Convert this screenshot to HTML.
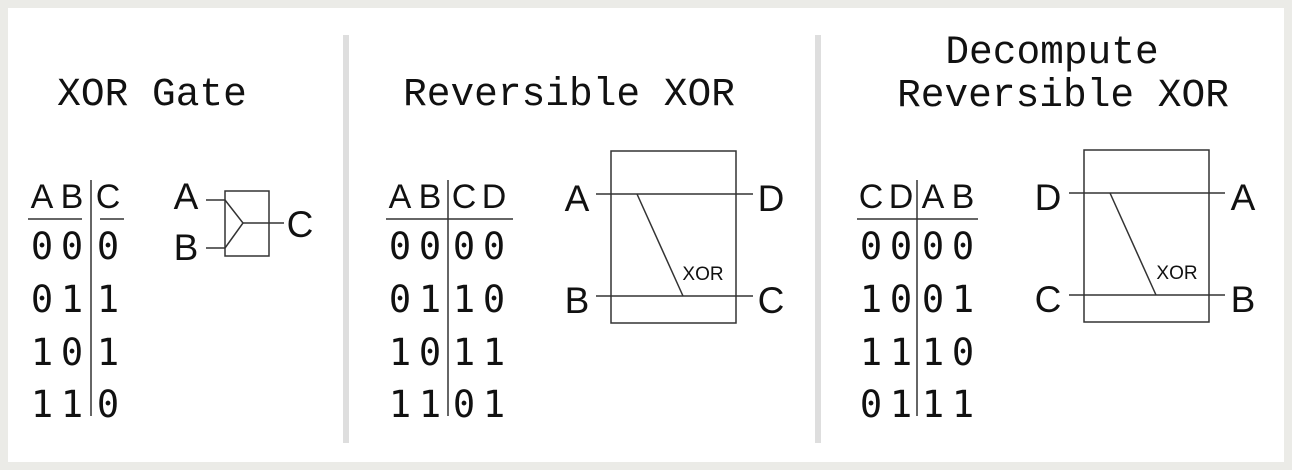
<!DOCTYPE html>
<html><head><style>
html,body{margin:0;padding:0;background:#ebebe7;}
svg{display:block}
.t{font-family:"Liberation Mono",monospace;font-size:39.5px;fill:#111}
.d{font-family:"DejaVu Sans Mono","Liberation Mono",monospace;font-size:37px;fill:#111}
.l{font-family:"Liberation Sans",sans-serif;font-size:37px;fill:#111}
.h{font-family:"Liberation Sans",sans-serif;font-size:34px;fill:#111}
.x{font-family:"Liberation Sans",sans-serif;font-size:19px;fill:#111}
</style></head><body>
<svg width="1292" height="470" viewBox="0 0 1292 470">
<rect x="8" y="8" width="1276" height="454" fill="#fff"/>
<rect x="343" y="35" width="6" height="408" fill="#dedede"/>
<rect x="815" y="35" width="6" height="408" fill="#dedede"/>
<g class="t" text-anchor="middle">
<text x="152" y="105">XOR Gate</text>
<text x="569" y="105">Reversible XOR</text>
<text x="1052" y="63">Decompute</text>
<text x="1063" y="106">Reversible XOR</text>
</g>
<g stroke="#333" stroke-width="1.5" fill="none">
<line x1="28" y1="219" x2="82" y2="219"/><line x1="100" y1="219" x2="124" y2="219"/>
<line x1="91" y1="180" x2="91" y2="416"/>
<line x1="386" y1="219" x2="513" y2="219"/><line x1="448" y1="180" x2="448" y2="416"/>
<line x1="857" y1="219" x2="978" y2="219"/><line x1="917" y1="180" x2="917" y2="416"/>
<rect x="225" y="191" width="44" height="65"/>
<line x1="206" y1="200" x2="225" y2="200"/><line x1="206" y1="248" x2="225" y2="248"/>
<polyline points="225,200 243,223 225,248"/>
<line x1="243" y1="223" x2="284" y2="223"/>
<rect x="611" y="151" width="125" height="172"/>
<line x1="596" y1="194" x2="753" y2="194"/><line x1="596" y1="296" x2="753" y2="296"/>
<line x1="637" y1="194" x2="683" y2="296"/>
<rect x="1084" y="150" width="125" height="172"/>
<line x1="1069" y1="193" x2="1225" y2="193"/><line x1="1069" y1="295" x2="1225" y2="295"/>
<line x1="1110" y1="193" x2="1156" y2="295"/>
</g>
<g class="h" text-anchor="middle">
<text x="42" y="208">A</text><text x="72" y="208">B</text><text x="108" y="208">C</text>
<text x="400" y="208">A</text><text x="430" y="208">B</text><text x="464" y="208">C</text><text x="494" y="208">D</text>
<text x="871" y="208">C</text><text x="901" y="208">D</text><text x="933" y="208">A</text><text x="963" y="208">B</text>
</g>
<g class="l" text-anchor="middle">
<text x="186" y="209">A</text><text x="186" y="260">B</text><text x="300" y="237">C</text>
<text x="577" y="211">A</text><text x="771" y="211">D</text><text x="577" y="313">B</text><text x="771" y="313">C</text>
<text x="1048" y="210">D</text><text x="1243" y="210">A</text><text x="1048" y="312">C</text><text x="1243" y="312">B</text>
</g>
<g class="x" text-anchor="middle"><text x="703" y="280">XOR</text><text x="1177" y="279">XOR</text></g>
<g class="d" text-anchor="middle">
<text x="42" y="259">0</text><text x="72" y="259">0</text><text x="108" y="259">0</text>
<text x="42" y="312">0</text><text x="72" y="312">1</text><text x="108" y="312">1</text>
<text x="42" y="365">1</text><text x="72" y="365">0</text><text x="108" y="365">1</text>
<text x="42" y="417">1</text><text x="72" y="417">1</text><text x="108" y="417">0</text>

<text x="400" y="259">0</text><text x="430" y="259">0</text><text x="464" y="259">0</text><text x="494" y="259">0</text>
<text x="400" y="312">0</text><text x="430" y="312">1</text><text x="464" y="312">1</text><text x="494" y="312">0</text>
<text x="400" y="365">1</text><text x="430" y="365">0</text><text x="464" y="365">1</text><text x="494" y="365">1</text>
<text x="400" y="417">1</text><text x="430" y="417">1</text><text x="464" y="417">0</text><text x="494" y="417">1</text>

<text x="871" y="259">0</text><text x="901" y="259">0</text><text x="933" y="259">0</text><text x="963" y="259">0</text>
<text x="871" y="312">1</text><text x="901" y="312">0</text><text x="933" y="312">0</text><text x="963" y="312">1</text>
<text x="871" y="365">1</text><text x="901" y="365">1</text><text x="933" y="365">1</text><text x="963" y="365">0</text>
<text x="871" y="417">0</text><text x="901" y="417">1</text><text x="933" y="417">1</text><text x="963" y="417">1</text>
</g>
</svg>
</body></html>
